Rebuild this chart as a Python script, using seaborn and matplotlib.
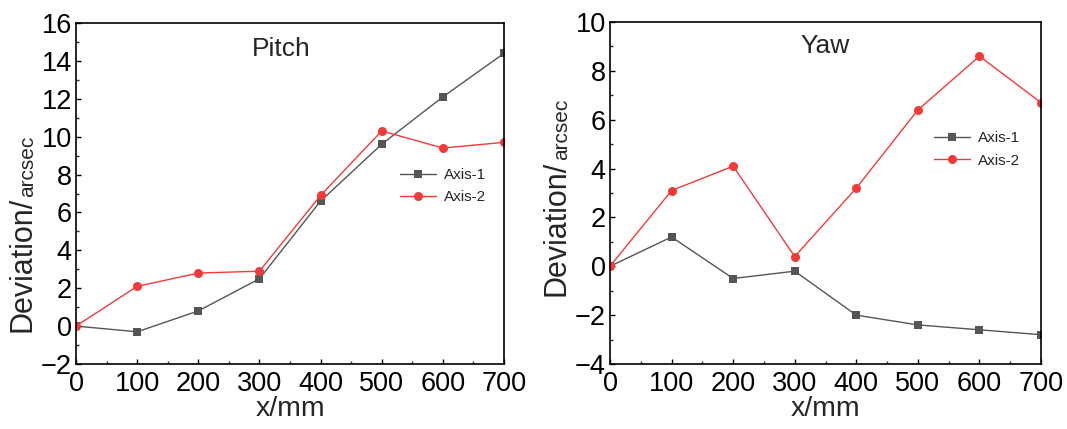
import numpy as np
import pandas as pd
import matplotlib
matplotlib.use("Agg")
import matplotlib.pyplot as plt
from matplotlib.ticker import MultipleLocator
import seaborn as sns

# ---- data ----
x_mm = [0, 100, 200, 300, 400, 500, 600, 700]
pitch_axis1 = [0.0, -0.3, 0.8, 2.5, 6.6, 9.6, 12.1, 14.4]
pitch_axis2 = [0.0, 2.1, 2.8, 2.9, 6.9, 10.3, 9.4, 9.7]
yaw_axis1 = [0.0, 1.2, -0.5, -0.2, -2.0, -2.4, -2.6, -2.8]
yaw_axis2 = [0.0, 3.1, 4.1, 0.4, 3.2, 6.4, 8.6, 6.7]
series_names = ["Axis-1", "Axis-2"]
panel_titles = ["Pitch", "Yaw"]

sns.set_theme(style="white")
plt.rcParams['font.family'] = ['Liberation Sans', 'DejaVu Sans']
plt.rcParams['axes.unicode_minus'] = True

fig = plt.figure(figsize=(10.67, 4.29), dpi=100)
ax1 = fig.add_axes([76/1067, 1-364/429, 428/1067, 341/429])
ax2 = fig.add_axes([610/1067, 1-364/429, 431/1067, 342/429])

gray = "#555555"
red = "#f23a3a"

panels = [
    (ax1, pitch_axis1, pitch_axis2, (-2, 16), 0.757, 0.575, 0.48, 0.925, 0.094),
    (ax2, yaw_axis1, yaw_axis2, (-4, 10), 0.752, 0.68, 0.50, 0.93, 0.20),
]

for i, (ax, a1, a2, ylim, lx, ly, tx, ty, ylab_y) in enumerate(panels):
    df = pd.DataFrame({"x": x_mm * 2,
                       "y": list(a1) + list(a2),
                       "series": [series_names[0]] * len(x_mm) + [series_names[1]] * len(x_mm)})
    sns.lineplot(data=df[df.series == series_names[0]], x="x", y="y", ax=ax,
                 color=gray, marker="s", markersize=6, markeredgewidth=0,
                 linewidth=1.0, label=series_names[0])
    sns.lineplot(data=df[df.series == series_names[1]], x="x", y="y", ax=ax,
                 color=red, marker="o", markersize=6.5, markeredgewidth=0,
                 linewidth=1.0, label=series_names[1])
    ax.set_xlim(0, 700)
    ax.set_ylim(*ylim)
    ax.xaxis.set_major_locator(MultipleLocator(100))
    ax.xaxis.set_minor_locator(MultipleLocator(50))
    ax.yaxis.set_major_locator(MultipleLocator(2))
    ax.yaxis.set_minor_locator(MultipleLocator(1))
    ax.tick_params(which="major", direction="in", length=3.6, width=1.0,
                   labelsize=19.5, color="black", labelcolor="black", pad=3,
                   bottom=True, left=True, top=False, right=False)
    ax.tick_params(axis="x", which="major", pad=5)
    ax.tick_params(which="minor", direction="in", length=2.2, width=1.0,
                   bottom=True, left=True, top=False, right=False)
    for sp in ax.spines.values():
        sp.set_visible(True)
        sp.set_color("black")
        sp.set_linewidth(1.2)
    ax.set_xlabel("x/mm", fontsize=20.5, labelpad=-1)
    ax.set_ylabel("")
    t1 = ax.text(-0.125, ylab_y, "Deviation/", rotation=90,
                 ha="center", va="bottom", fontsize=22, transform=ax.transAxes)
    ax.annotate("arcsec", xy=(1, 1), xycoords=t1, rotation=90,
                ha="right", va="bottom", fontsize=15)
    ax.text(tx, ty, panel_titles[i], ha="center", va="center", fontsize=19,
            transform=ax.transAxes)
    ax.legend(loc="upper left", bbox_to_anchor=(lx, ly), frameon=False,
              fontsize=11, handlelength=2.35, handletextpad=0.55,
              labelspacing=0.55, borderpad=0, borderaxespad=0)

fig.savefig("out.png", dpi=100)
